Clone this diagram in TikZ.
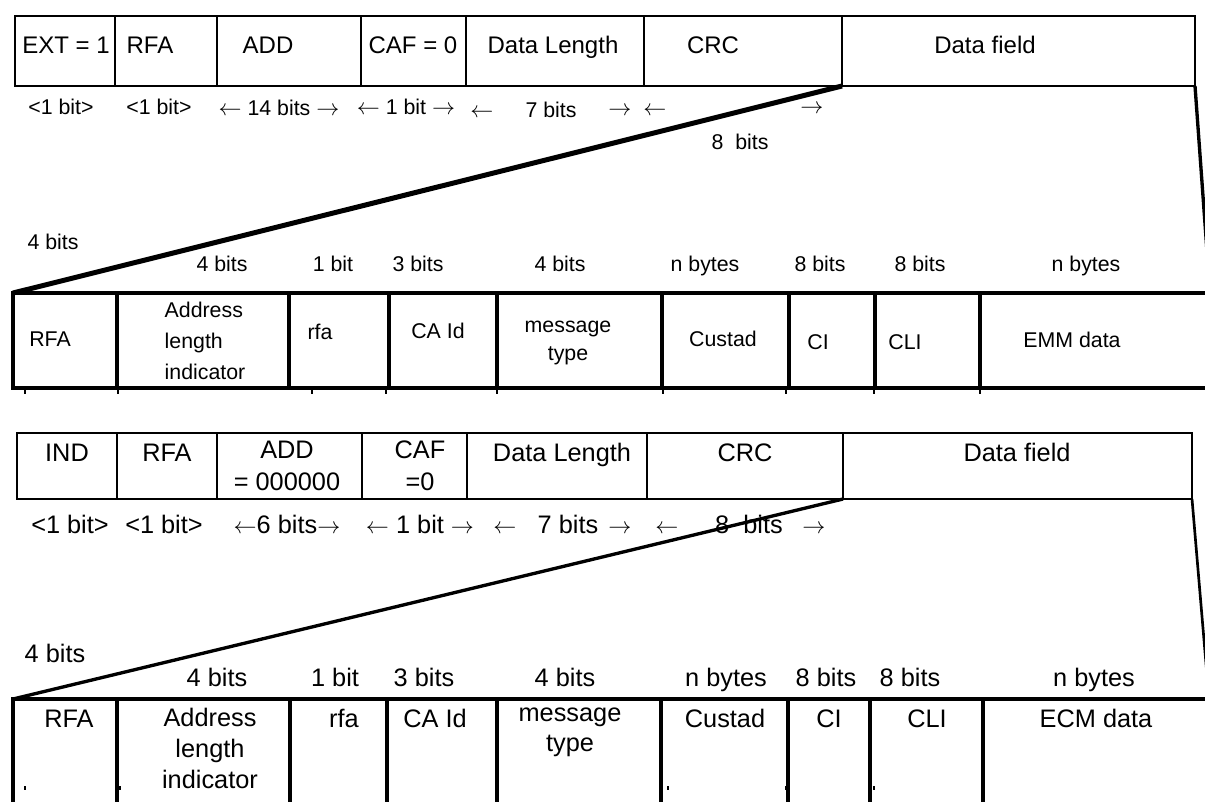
\documentclass[tikz,border=0pt]{standalone}
\usepackage{fontspec}
\setmainfont{Liberation Sans}
\usetikzlibrary{positioning}

\begin{document}
\begin{tikzpicture}[
        x = 0.75pt, y = -0.75pt,
        field/.style = {draw, inner sep=0pt, outer sep=0pt},
        hdr/.style = {field, line width=2.2pt, minimum height=52.5pt},
        sub/.style = {field, line width=3.4pt, minimum height=71.25pt},
        hdrb/.style = {field, line width=2.2pt, minimum height=49.5pt},
        subb/.style = {field, line width=2.6pt, minimum height=90pt},
        txt/.style = {inner sep=0pt, text depth=0pt},
        lines/.style = {inner sep=0pt, align=center},
        big/.style = {txt, text height=13pt, font=\fontsize{18}{21}\selectfont},
        small/.style = {txt, text height=11.5pt, font=\fontsize{16}{21}\selectfont},
        large/.style = {txt, text height=13.7pt, font=\fontsize{19}{21}\selectfont},
        zoom/.style = {line width=3.75pt},
        edge/.style = {line width=2.5pt},
        tick/.style = {line width=2pt},
    ]
        \useasboundingbox (0,0) rectangle (1205,801);

        % EMM header
        \node[hdr, minimum width=75pt, anchor=north west] (ext) at (15,16) {};
        \node[hdr, minimum width=76.5pt, right=0pt of ext] (rfa) {};
        \node[hdr, minimum width=108pt, right=0pt of rfa] (add) {};
        \node[hdr, minimum width=78.75pt, right=0pt of add] (caf) {};
        \node[hdr, minimum width=133.5pt, right=0pt of caf] (len) {};
        \node[hdr, minimum width=148.5pt, right=0pt of len] (crc) {};
        \node[hdr, minimum width=264.75pt, right=0pt of crc] (data) {};

        \node[big] (t-ext) at (66,45) {EXT = 1};
        \node[big] (t-rfa) at (150,45) {RFA};
        \node[big] (t-add) at (268,45) {ADD};
        \node[big] (t-caf) at (413,45) {CAF = 0};
        \node[big] (t-len) at (553,45) {Data Length};
        \node[big] (t-crc) at (713,45) {CRC};
        \node[big] (t-data) at (985,45) {Data field};

        \node[small] (b-ext) at (61,107) {<1 bit>};
        \node[small] (b-rfa) at (159,107) {<1 bit>};
        \node[small] (b-add) at (279,108) {$\leftarrow$ 14 bits $\rightarrow$};
        \node[small] (b-caf) at (406,107) {$\leftarrow$ 1 bit $\rightarrow$};
        \node[small] (b-len1) at (482,110) {$\leftarrow$};
        \node[small] (b-len) at (551,110) {7 bits};
        \node[small] (b-len2) at (620,108) {$\rightarrow$};
        \node[small] (b-crc1) at (655,108) {$\leftarrow$};
        \node[small] (b-crc2) at (812,106) {$\rightarrow$};
        \node[small] (b-crc) at (740,142) {8\ \ bits};

        % EMM data field
        \node[sub, minimum width=78pt, anchor=north west] (rfaB) at (13,293) {};
        \node[sub, minimum width=129pt, right=0pt of rfaB] (ali) {};
        \node[sub, minimum width=75pt, right=0pt of ali] (rfaL) {};
        \node[sub, minimum width=81pt, right=0pt of rfaL] (caid) {};
        \node[sub, minimum width=123.75pt, right=0pt of caid] (msg) {};
        \node[sub, minimum width=95.25pt, right=0pt of msg] (cust) {};
        \node[sub, minimum width=64.5pt, right=0pt of cust] (ci) {};
        \node[sub, minimum width=78.75pt, right=0pt of ci] (cli) {};
        \node[sub, minimum width=172.5pt, right=0pt of cli] (emm) {};

        \node[small] (w-first) at (53,242) {4 bits};
        \node[small] (w-ali) at (222,264) {4 bits};
        \node[small] (w-rfaL) at (333,264) {1 bit};
        \node[small] (w-caid) at (418,264) {3 bits};
        \node[small] (w-msg) at (560,264) {4 bits};
        \node[small] (w-cust) at (705,264) {n bytes};
        \node[small] (w-ci) at (820,264) {8 bits};
        \node[small] (w-cli) at (920,264) {8 bits};
        \node[small] (w-emm) at (1086,264) {n bytes};

        \node[small] (t-rfaB) at (50,339) {RFA};
        \node[lines, align=left, font=\fontsize{16}{23.5}\selectfont] (t-ali) at (205,341) {Address\\length\\indicator};
        \node[small] (t-rfaL) at (320,332) {rfa};
        \node[small] (t-caid) at (438,331) {CA Id};
        \node[lines, font=\fontsize{16}{20.5}\selectfont] (t-msg) at (568,343) {message\\type};
        \node[small] (t-cust) at (723,339) {Custad};
        \node[small] (t-ci) at (818,342) {CI};
        \node[small] (t-cli) at (905,342) {CLI};
        \node[small] (t-emm) at (1072,340) {EMM data};

        \draw[tick] (25,388) -- ++(0,6) (118,388) -- ++(0,6) (312,388) -- ++(0,6)
            (386,388) -- ++(0,6) (497,388) -- ++(0,6) (663,388) -- ++(0,6)
            (786,388) -- ++(0,6) (874,388) -- ++(0,6) (980,388) -- ++(0,6);

        \draw[zoom] (crc.south east) -- (rfaB.north west);
        \draw[edge] (data.south east) -- (emm.north east);

        % ECM header
        \node[hdrb, minimum width=75pt, anchor=north west] (ind) at (17,433) {};
        \node[hdrb, minimum width=75pt, right=0pt of ind] (rfaC) {};
        \node[hdrb, minimum width=108.75pt, right=0pt of rfaC] (addC) {};
        \node[hdrb, minimum width=78.75pt, right=0pt of addC] (cafC) {};
        \node[hdrb, minimum width=135pt, right=0pt of cafC] (lenC) {};
        \node[hdrb, minimum width=147pt, right=0pt of lenC] (crcC) {};
        \node[hdrb, minimum width=261.75pt, right=0pt of crcC] (dataC) {};

        \node[large] (t-ind) at (67,452) {IND};
        \node[large] (t-rfaC) at (167,452) {RFA};
        \node[lines, font=\fontsize{19}{24}\selectfont] (t-addC) at (287,466) {ADD\\= 000000};
        \node[lines, font=\fontsize{19}{24}\selectfont] (t-cafC) at (420,466) {CAF\\=0};
        \node[large] (t-lenC) at (562,452) {Data Length};
        \node[large] (t-crcC) at (745,452) {CRC};
        \node[large] (t-dataC) at (1017,452) {Data field};

        \node[large] (b-ind) at (70,524) {<1 bit>};
        \node[large] (b-rfaC) at (164,524) {<1 bit>};
        \node[large] (b-addC) at (287,524) {$\leftarrow$6 bits$\rightarrow$};
        \node[large] (b-cafC) at (420,524) {$\leftarrow$ 1 bit $\rightarrow$};
        \node[large] (b-lenC1) at (505,524) {$\leftarrow$};
        \node[large] (b-lenC) at (568,524) {7 bits};
        \node[large] (b-lenC2) at (620,524) {$\rightarrow$};
        \node[large] (b-crcC1) at (667,524) {$\leftarrow$};
        \node[large] (b-crcC) at (749,524) {8\ \ bits};
        \node[large] (b-crcC2) at (814,524) {$\rightarrow$};

        % ECM data field
        \node[subb, minimum width=78pt, anchor=north west] (rfaD) at (13,699) {};
        \node[subb, minimum width=129.75pt, right=0pt of rfaD] (aliD) {};
        \node[subb, minimum width=72.75pt, right=0pt of aliD] (rfaLD) {};
        \node[subb, minimum width=82.5pt, right=0pt of rfaLD] (caidD) {};
        \node[subb, minimum width=123pt, right=0pt of caidD] (msgD) {};
        \node[subb, minimum width=95.25pt, right=0pt of msgD] (custD) {};
        \node[subb, minimum width=61.5pt, right=0pt of custD] (ciD) {};
        \node[subb, minimum width=84.75pt, right=0pt of ciD] (cliD) {};
        \node[subb, minimum width=169.5pt, right=0pt of cliD] (ecm) {};

        \node[large] (w-firstD) at (55,653) {4 bits};
        \node[large] (w-aliD) at (217,677) {4 bits};
        \node[large] (w-rfaLD) at (335,677) {1 bit};
        \node[large] (w-caidD) at (424,677) {3 bits};
        \node[large] (w-msgD) at (565,677) {4 bits};
        \node[large] (w-custD) at (726,677) {n bytes};
        \node[large] (w-ciD) at (826,677) {8 bits};
        \node[large] (w-cliD) at (910,677) {8 bits};
        \node[large] (w-ecm) at (1094,677) {n bytes};

        \node[large] (t-rfaD) at (69,718) {RFA};
        \node[lines, font=\fontsize{19}{23.25}\selectfont] (t-aliD) at (210,748) {Address\\length\\indicator};
        \node[large] (t-rfaLD) at (344,718) {rfa};
        \node[large] (t-caidD) at (435,718) {CA Id};
        \node[lines, font=\fontsize{19}{22.5}\selectfont] (t-msgD) at (570,732) {message\\type};
        \node[large] (t-custD) at (725,718) {Custad};
        \node[large] (t-ciD) at (829,718) {CI};
        \node[large] (t-cliD) at (927,718) {CLI};
        \node[large] (t-ecm) at (1096,718) {ECM data};

        \draw[tick] (25,786) -- ++(0,4) (120,786) -- ++(0,4) (497,786) -- ++(0,4)
            (668,786) -- ++(0,4) (786,786) -- ++(0,4) (874,786) -- ++(0,4);

        \draw[edge] (crcC.south east) -- (rfaD.north west);
        \draw[line width=2pt] (dataC.south east) -- (ecm.north east);
    \end{tikzpicture}
\end{document}
